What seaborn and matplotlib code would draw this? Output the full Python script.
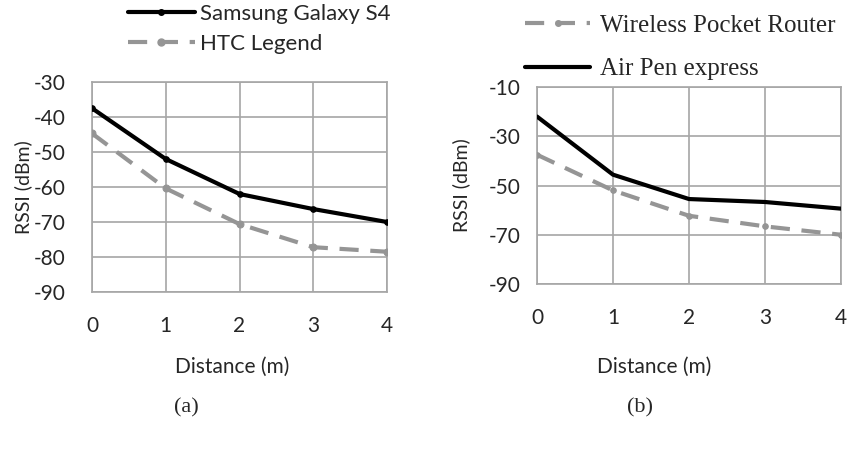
import numpy as np
import pandas as pd
import seaborn as sns
import matplotlib.pyplot as plt
from matplotlib.lines import Line2D

sns.set_style("white")
plt.rcParams['font.family'] = ['Lato', 'DejaVu Sans']
plt.rcParams['axes.unicode_minus'] = False

distance = [0, 1, 2, 3, 4]
samsung_s4 = [-37.5, -52, -62, -66.3, -70]
htc_legend = [-44.7, -60.4, -70.6, -77.2, -78.5]
air_pen = [-22, -45.6, -55.5, -56.7, -59.4]
pocket_router = [-37.5, -52, -62.3, -66.6, -70]

left_ticks = [-30, -40, -50, -60, -70, -80, -90]
right_ticks = [-10, -30, -50, -70, -90]

BLACK = "#000000"
GRAY = "#959595"
GRID = "#a6a6a6"
DASH = (0, (4.6, 2.8))
LW = 3.0

fig = plt.figure(figsize=(8.52, 4.49), dpi=100)
ax1 = fig.add_axes([92 / 852, 1 - 292 / 449, 295 / 852, 210 / 449])
ax2 = fig.add_axes([537 / 852, 1 - 284 / 449, 304 / 852, 197 / 449])

# (a) phones
sns.lineplot(x=distance, y=samsung_s4, ax=ax1, color=BLACK, lw=LW,
             marker="o", ms=4, mec=BLACK, zorder=4)
sns.lineplot(x=distance, y=htc_legend, ax=ax1, color=GRAY, lw=LW, ls=DASH,
             marker="o", ms=5, mec=GRAY, zorder=3)

# (b) access points
sns.lineplot(x=distance, y=air_pen, ax=ax2, color=BLACK, lw=LW, zorder=4)
sns.lineplot(x=distance, y=pocket_router, ax=ax2, color=GRAY, lw=LW, ls=DASH,
             marker="o", ms=4, mec=GRAY, zorder=3)


def style_axes(ax, ticks):
    ax.set_xlim(0, 4)
    ax.set_ylim(min(ticks), max(ticks))
    ax.set_xticks(distance)
    ax.set_yticks(ticks)
    ax.grid(True, color=GRID, lw=1.2)
    for s in ax.spines.values():
        s.set_color(GRID)
        s.set_linewidth(1.2)
    ax.tick_params(length=0, labelsize=15)
    ax.set_ylabel("RSSI (dBm)", fontsize=14)
    ax.set_xlabel("Distance (m)", fontsize=15)


style_axes(ax1, left_ticks)
style_axes(ax2, right_ticks)
ax1.tick_params(axis='y', pad=19)
ax1.tick_params(axis='x', pad=17)
ax2.tick_params(axis='y', pad=12)
ax2.tick_params(axis='x', pad=17)
ax1.yaxis.set_label_coords(-0.203, 0.5)
ax2.yaxis.set_label_coords(-0.22, 0.5)
ax1.xaxis.set_label_coords(0.475, -0.31)
ax2.xaxis.set_label_coords(0.385, -0.37)

h_s4 = Line2D([], [], color=BLACK, lw=LW, marker="o", ms=4)
h_htc = Line2D([], [], color=GRAY, lw=LW, ls=DASH, marker="o", ms=5)
ax1.legend([h_s4, h_htc], ["Samsung Galaxy S4", "HTC Legend"],
           loc="upper left", bbox_to_anchor=(128 / 852, 1 - 4 / 449),
           bbox_transform=fig.transFigure, frameon=False, fontsize=16,
           handlelength=3.0, handletextpad=0.25, labelspacing=0.45,
           borderaxespad=0.0, borderpad=0.0)

h_wpr = Line2D([], [], color=GRAY, lw=LW, ls=DASH, marker="o", ms=4)
h_air = Line2D([], [], color=BLACK, lw=LW)
ax2.legend([h_wpr, h_air], ["Wireless Pocket Router", "Air Pen express"],
           loc="upper left", bbox_to_anchor=(525 / 852, 1 - 14 / 449),
           bbox_transform=fig.transFigure, frameon=False,
           prop={'family': 'Liberation Serif', 'size': 18},
           handlelength=2.6, handletextpad=0.4, labelspacing=0.85,
           borderaxespad=0.0, borderpad=0.0)

fig.text(186 / 852, 1 - 408 / 449, "(a)", ha="center", va="center",
         family="Liberation Serif", fontsize=16)
fig.text(640 / 852, 1 - 408 / 449, "(b)", ha="center", va="center",
         family="Liberation Serif", fontsize=16)

fig.savefig("out.png", dpi=100, facecolor="white")
